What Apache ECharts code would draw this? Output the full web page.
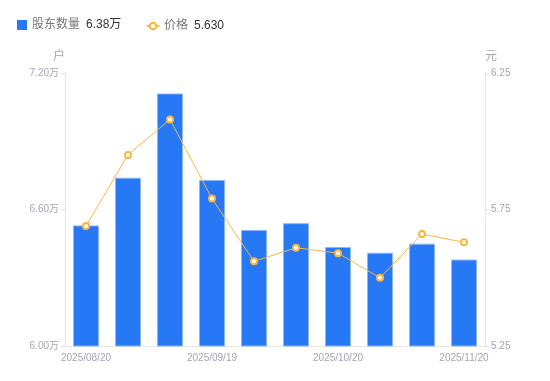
<!DOCTYPE html>
<html>
<head>
<meta charset="utf-8">
<script src="https://cdn.jsdelivr.net/npm/echarts@6/dist/echarts.min.js"></script>
<style>html,body{margin:0;padding:0;background:#fff;}#c{width:550px;height:381px;}</style>
</head>
<body>
<div id="c"></div>
<script>
const categories = ['2025/08/20','2025/08/29','2025/09/10','2025/09/19','2025/09/30','2025/10/10','2025/10/20','2025/10/31','2025/11/10','2025/11/20'];
const holders = [6.53, 6.74, 7.11, 6.73, 6.51, 6.54, 6.435, 6.41, 6.45, 6.38];
const prices = [5.69, 5.95, 6.08, 5.79, 5.56, 5.61, 5.59, 5.50, 5.66, 5.63];
const leftTicks = {min: 6.0, max: 7.2, interval: 0.6};
const rightTicks = {min: 5.25, max: 6.25, interval: 0.5};

const chart = echarts.init(document.getElementById('c'));
const font = '"Liberation Sans", "Noto Sans CJK SC", sans-serif';
const axisLabelColor = '#a3a6b4';
const legendText = {
  fontSize: 12, color: '#777', fontFamily: font,
  rich: {n: {color: '#777', fontSize: 12, fontFamily: font}, v: {color: '#333', fontSize: 12, fontFamily: font, padding: [0,0,0,6]}}
};
const fmt = function (name) {
  if (name === '股东数量') return '{n|' + name + '}{v|' + holders[holders.length-1].toFixed(2) + '万}';
  return '{n|' + name + '}{v|' + prices[prices.length-1].toFixed(3) + '}';
};
chart.setOption({
  animation: false,
  textStyle: {fontFamily: font},
  legend: [
    {
      left: 12, top: 14, itemWidth: 10, itemHeight: 10, itemGap: 5,
      textStyle: legendText,
      data: [{name: '股东数量', icon: 'rect', itemStyle: {borderWidth: 0, color: '#2778f5'}}],
      formatter: fmt
    },
    {
      left: 141, top: 15, itemWidth: 12, itemHeight: 8, itemGap: 5,
      textStyle: legendText, data: [{name: '价格'}], formatter: fmt
    }
  ],
  grid: {left: 65, right: 65, top: 73, bottom: 35},
  xAxis: {
    type: 'category', data: categories, boundaryGap: true,
    axisLine: {lineStyle: {color: '#e6e6e6'}},
    axisTick: {show: false},
    axisLabel: {interval: 2, color: axisLabelColor, fontSize: 10, margin: 7, fontFamily: font}
  },
  yAxis: [
    {
      type: 'value', min: leftTicks.min, max: leftTicks.max, interval: leftTicks.interval,
      name: '户', nameGap: 10, nameTextStyle: {color: axisLabelColor, fontSize: 12, align: 'right', padding: [0, 0, 0, 0]},
      axisLine: {show: true, lineStyle: {color: '#e6e6e6'}},
      axisTick: {show: true, length: 4, lineStyle: {color: '#e0e0e0'}},
      splitLine: {show: false},
      axisLabel: {color: axisLabelColor, fontSize: 10, margin: 6, fontFamily: font, formatter: v => v.toFixed(2) + '万'}
    },
    {
      type: 'value', min: rightTicks.min, max: rightTicks.max, interval: rightTicks.interval,
      name: '元', nameGap: 10, nameTextStyle: {color: axisLabelColor, fontSize: 12, align: 'left'},
      axisLine: {show: true, lineStyle: {color: '#e6e6e6'}},
      axisTick: {show: true, length: 4, lineStyle: {color: '#e0e0e0'}},
      splitLine: {show: false},
      axisLabel: {color: axisLabelColor, fontSize: 10, margin: 6, fontFamily: font, formatter: v => v.toFixed(2)}
    }
  ],
  series: [
    {
      name: '股东数量', type: 'bar', yAxisIndex: 0, data: holders, barWidth: 26,
      itemStyle: {color: '#2778f5', borderColor: '#8cb8fa', borderWidth: 1}
    },
    {
      name: '价格', type: 'line', yAxisIndex: 1, data: prices,
      symbol: 'circle', symbolSize: 6, showSymbol: true,
      lineStyle: {color: '#f7b740', width: 1},
      itemStyle: {color: '#fff', borderColor: '#f7b740', borderWidth: 2}
    }
  ]
});
</script>
</body>
</html>
